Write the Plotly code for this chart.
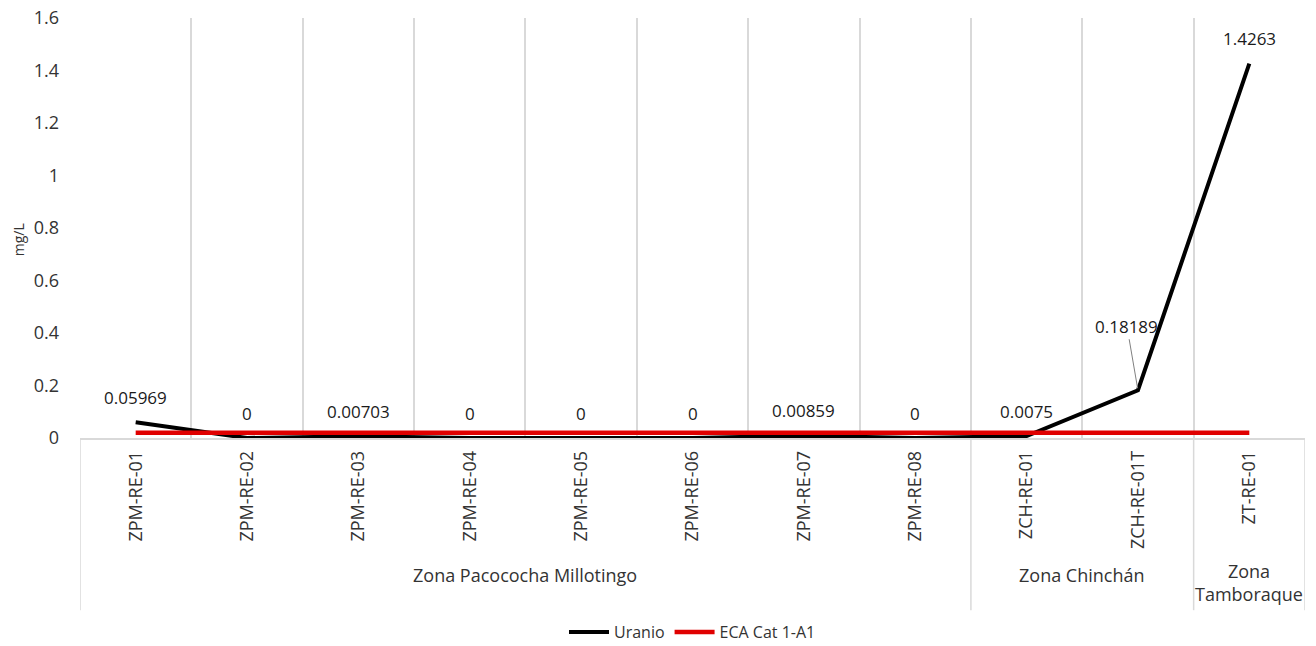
import plotly.graph_objects as go

categories = ["ZPM-RE-01", "ZPM-RE-02", "ZPM-RE-03", "ZPM-RE-04", "ZPM-RE-05", "ZPM-RE-06",
              "ZPM-RE-07", "ZPM-RE-08", "ZCH-RE-01", "ZCH-RE-01T", "ZT-RE-01"]
uranio = [0.05969, 0, 0.00703, 0, 0, 0, 0.00859, 0, 0.0075, 0.18189, 1.4263]
uranio_labels = ["0.05969", "0", "0.00703", "0", "0", "0", "0.00859", "0", "0.0075", "0.18189", "1.4263"]
eca = [0.02] * 11
groups = ["Zona Pacococha Millotingo", "Zona Chinchán", "Zona<br>Tamboraque"]
group_sizes = [8, 2, 1]
y_ticks = [0, 0.2, 0.4, 0.6, 0.8, 1, 1.2, 1.4, 1.6]

FONT = "Open Sans"
TXT = "#333333"
GRID = "#d9d9d9"

fig = go.Figure()
fig.add_trace(go.Scatter(x=categories, y=uranio, mode="lines", name="Uranio",
                         line=dict(color="black", width=4)))
fig.add_trace(go.Scatter(x=categories, y=eca, mode="lines", name="ECA Cat 1-A1",
                         line=dict(color="#e00000", width=4.5)))

# data labels
for i, (c, v, t) in enumerate(zip(categories, uranio, uranio_labels)):
    if t == "0.18189":
        fig.add_annotation(x=c, y=v, text=t, showarrow=True, arrowhead=0, arrowwidth=1,
                           arrowcolor="#808080", ax=-11, ay=-64, standoff=2,
                           font=dict(family=FONT, size=17, color="#1a1a1a"))
    else:
        fig.add_annotation(x=c, y=v, text=t, showarrow=False, yshift=25,
                           font=dict(family=FONT, size=17, color="#1a1a1a"))

# group labels and dividers
start = 0
bounds = [-0.5]
for g, n in zip(groups, group_sizes):
    mid = start + (n - 1) / 2
    ypos = -0.345 if "<br>" in g else -0.326
    fig.add_annotation(x=mid, y=ypos, xref="x", yref="paper", text=g, showarrow=False,
                       font=dict(family=FONT, size=18, color=TXT), xanchor="center", yanchor="middle")
    start += n
    bounds.append(start - 0.5)
for b in bounds:
    fig.add_shape(type="line", x0=b, x1=b, y0=0, y1=-0.41, xref="x", yref="paper",
                  line=dict(color=GRID, width=1.5))

# y-axis title
fig.add_annotation(x=-0.0506, y=0.471, xref="paper", yref="paper", text="mg/L", textangle=-90,
                   xanchor="center", yanchor="middle",
                   showarrow=False, font=dict(family=FONT, size=14, color=TXT))

fig.update_layout(
    width=1316, height=646,
    margin=dict(l=80, r=11, t=18, b=208, autoexpand=False),
    plot_bgcolor="white", paper_bgcolor="white",
    font=dict(family=FONT, color=TXT, size=16),
    showlegend=True,
    legend=dict(orientation="h", x=0.5, xanchor="center", y=-0.462, yanchor="middle",
                itemwidth=40, font=dict(family=FONT, size=16, color=TXT)),
    xaxis=dict(type="category", tickson="boundaries", showgrid=True, gridcolor=GRID, gridwidth=1.5,
               tickangle=-90, ticks="", showline=True, linecolor=GRID, linewidth=1.5, automargin=False,
               ticklabelstandoff=4,
               range=[-0.5, 10.5], tickfont=dict(family=FONT, size=18, color=TXT), zeroline=False),
    yaxis=dict(range=[0, 1.6], tickvals=y_ticks, ticktext=[str(v) for v in y_ticks], showgrid=False,
               zeroline=False, showline=False, ticks="", automargin=False, ticklabelstandoff=20,
               ticklabeloverflow="allow",
               tickfont=dict(family=FONT, size=18, color=TXT)),
)

fig.write_html("out.html", config={"displayModeBar": False},
               post_script="document.body.style.margin='0';document.body.style.overflow='hidden';")
